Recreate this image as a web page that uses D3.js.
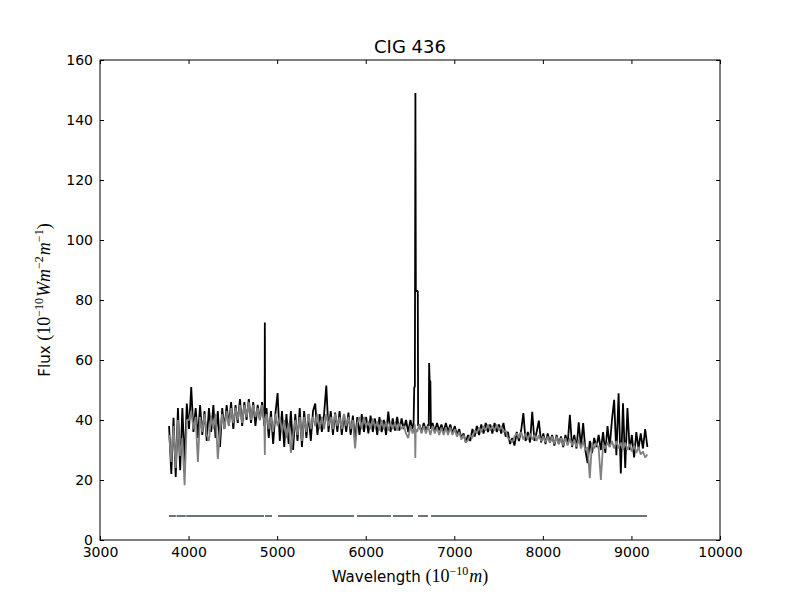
<!DOCTYPE html>
<html><head><meta charset="utf-8">
<script src="https://cdn.jsdelivr.net/npm/d3@7"></script>
<style>body{margin:0;background:#fff}</style>
</head><body>
<svg id="c" width="800" height="600"></svg>
<script>
// ---------- data ----------
const title = "CIG 436";
const xTicks = [3000,4000,5000,6000,7000,8000,9000,10000];
const yTicks = [0,20,40,60,80,100,120,140,160];

// sampling grid of the spectra (Angstrom)
const gridStart = 3780, gridStep = 25;

// observed spectrum (black), one value per grid point, 3780..9180
const observedFlux = [
  38,22,40.7,21,44,23.3,44,26,45.5,
  37,51,36,44,34, 45,35,43,33,44, 36,45,34,43,31, 44,37,45,38,46, 37,45,39,47,38, 46,40,47,39,46, 38,45,40,46,38,
  44,34,43,32,42, 49,33,43,31,42, 32,43,30,42,33, 44,31,43,34,42, 33,43,45.5,35,42,
  36,42,51.5,36,43, 35,42.5,36,43,35, 42,36,42.5,35,41.5, 33,41,35,42,36, 41,35.5,41.5,36,40.5, 35,41,36,40,35, 42.8,36,
  40.5,36.5,41,36.5,40.5, 37,40,36,40,37, 51,83,38.5,36,39, 36.5,38.5,53,39,36, 39,36.5,38.5,36,
  39,36,38.5,35.5,38, 35,37,34,35.5,32.5, 35,33,37,34.5,38, 35,38.5,35.5,39,36, 38.5,35.5,39,36,38.5, 35.5,39,34.5,36,32, 34,31.5,
  36,33,36.5,42.3,33, 36,32.5,42.7,33,36, 39.8,32.5,35.5,32,35.5, 32.5,35,31.5,35,32, 34.5,31,35,32,41.7, 31,35,30.5,39.2,31, 39,30,
  25.6,33,29,34,31, 35,30,36,29,38, 31,40,46.7,28.3,48.9, 22.2,45.6,24,44,30, 35,27.5,36,30.5,35.5, 30.5,37,31
];
// model spectrum (grey), same grid
const modelFlux = [
  35,26,38,24,40,28,34,18.3,40,
  40,43,37,41,26, 41,36,42,35,33, 41,37,42,27,36, 42,37,43,38,44, 39,44,40,45,39, 45,41,46,40,45, 41,44,40,45,39,
  42,37,41,36,42, 38,41,36,40,34, 39,29,35,40,35, 41,33,41,36,42, 37,41,38,42,37,
  41,37,42,38,41, 37,42,38,41,37, 42,38,41,37,40, 30.5,39,41,37,41, 38,39.5,37,40.5,37.5, 39.5,36.5,40,37,39.5, 36.5,39,
  37,39,36.5,39,37, 38,35.5,34,38,35.5, 38.5,36,38.5,35.5,38, 35.5,38,35,38,35.5, 37.5,35,37.5,35,
  37.5,35,37.5,35,37, 34.5,36,33.5,35,32.5, 33.3,35,34,36.5,35.5, 37.5,36,38,36.5,38.5, 36.5,38,36.5,38.5,36.5, 38,36,36.5,34,33.5, 32.5,34.5,
  35.5,34,36,33.5,35.5, 33.5,35.5,33.5,35,33, 35,33,34.5,32.5,34.5, 32.5,34.5,32,34.5,32, 34,31.5,34,31.5,34, 31.5,33.5,31,33.5,30.5, 33,30,
  31,20.6,32.5,30.5,32.5, 30.5,20,32,30.5,32.5, 31,33,30.5,33,30.5, 32.5,30,32.5,30,32, 29.5,31.5,29,31,28.5, 29.5,27.5,28.5
];

// narrow emission / absorption line samples added to the spectra
const observedLineWave = [4859,4861,4864, 6540,6548,6561,6566,6588,6592, 6712,6716,6722,6736];
const observedLineFlux = [40,72.5,40, 38,51,149,83,83,38, 38,59,53,37];
const modelLineWave = [4861,4866, 6560,6565];
const modelLineFlux = [28.3,40, 27.3,37];

// masked-region bar
const maskStart = [3779,3864,3974,4863,5010,5902,6308,6590,6737];
const maskEnd   = [3857,3968,4852,4942,5868,6286,6534,6703,9176];
const maskLevel = 8;

// ---------- drawing ----------
const svg = d3.select("#c");
const L = 100, R = 720, T = 60, B = 540;
const x = d3.scaleLinear().domain([3000,10000]).range([L,R]);
const y = d3.scaleLinear().domain([0,160]).range([B,T]);

function buildSeries(flux, lw, lf) {
  const pts = flux.map((f,i) => ({w: gridStart + i*gridStep, f}));
  lw.forEach((w,i) => pts.push({w, f: lf[i]}));
  return pts.sort((a,b) => a.w - b.w);
}
const obs = buildSeries(observedFlux, observedLineWave, observedLineFlux);
const mod = buildSeries(modelFlux, modelLineWave, modelLineFlux);

const line = d3.line().x(d => x(d.w)).y(d => y(d.f));

svg.append("path").datum(obs).attr("d", line)
  .attr("fill","none").attr("stroke","#000").attr("stroke-width",1.8).attr("stroke-linejoin","bevel");
svg.append("path").datum(mod).attr("d", line)
  .attr("fill","none").attr("stroke","#808080").attr("stroke-width",1.8).attr("stroke-linejoin","bevel");

svg.append("g").selectAll("line").data(maskStart).join("line")
  .attr("x1", (d) => x(d)).attr("x2", (d,i) => x(maskEnd[i]))
  .attr("y1", y(maskLevel)).attr("y2", y(maskLevel))
  .attr("stroke","#6a757b").attr("stroke-width",2);

const font = "DejaVu Sans, sans-serif";
const fs = 14;

const gx = svg.append("g").attr("transform",`translate(0,${B})`)
  .call(d3.axisBottom(x).tickValues(xTicks).tickSizeInner(-4).tickSizeOuter(0).tickPadding(7).tickFormat(d3.format("d")));
const gxt = svg.append("g").attr("transform",`translate(0,${T})`)
  .call(d3.axisTop(x).tickValues(xTicks).tickSizeInner(-4).tickSizeOuter(0).tickFormat(""));
const gy = svg.append("g").attr("transform",`translate(${L},0)`)
  .call(d3.axisLeft(y).tickValues(yTicks).tickSizeInner(-4).tickSizeOuter(0).tickPadding(7).tickFormat(d3.format("d")));
const gyr = svg.append("g").attr("transform",`translate(${R},0)`)
  .call(d3.axisRight(y).tickValues(yTicks).tickSizeInner(-4).tickSizeOuter(0).tickFormat(""));
[gx,gxt,gy,gyr].forEach(g => {
  g.select(".domain").remove();
  g.selectAll("line").attr("stroke","#000").attr("stroke-width",1);
  g.selectAll("text").attr("font-family",font).attr("font-size",fs).attr("fill","#000");
});

svg.append("rect").attr("x",L).attr("y",T).attr("width",R-L).attr("height",B-T)
  .attr("fill","none").attr("stroke","#000").attr("stroke-width",1);

svg.append("text").attr("x",(L+R)/2).attr("y",53).attr("text-anchor","middle")
  .attr("font-family",font).attr("font-size",18).text(title);

const serif = "Liberation Serif, DejaVu Serif, serif";
function mathLabel(t, parts) {
  parts.forEach(p => {
    const ts = t.append("tspan").text(p.s);
    ts.attr("font-family", p.sans ? font : serif).attr("font-size", p.sup ? 12 : (p.sans ? 15 : 18));
    if (p.it) ts.attr("font-style","italic");
    if (p.dy) ts.attr("dy", p.dy);
    if (p.dx) ts.attr("dx", p.dx);
  });
}
const xl = svg.append("text").attr("x",(L+R)/2).attr("y",582).attr("text-anchor","middle");
mathLabel(xl, [
  {s:"Wavelength ", sans:true},
  {s:"(10"},
  {s:"\u221210", sup:true, dy:-7},
  {s:"m", it:true, dy:7, dx:1},
  {s:")"}
]);
const yl = svg.append("text").attr("transform","translate(50,300) rotate(-90)").attr("text-anchor","middle");
mathLabel(yl, [
  {s:"Flux ", sans:true},
  {s:"(10"},
  {s:"\u221210", sup:true, dy:-7},
  {s:"Wm", it:true, dy:7, dx:1},
  {s:"\u22122", sup:true, dy:-7},
  {s:"m", it:true, dy:7, dx:1},
  {s:"\u22121", sup:true, dy:-7},
  {s:")", dy:7}
]);
</script>
</body></html>
